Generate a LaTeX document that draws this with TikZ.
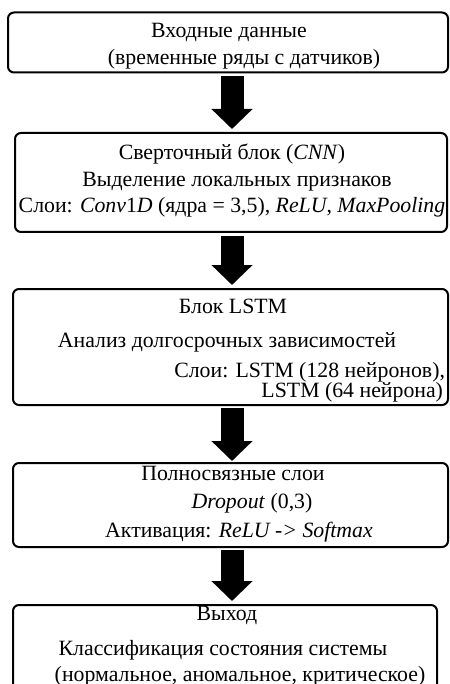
\documentclass[tikz,border=0pt]{standalone}
\usepackage{fontspec}
\setmainfont{Liberation Serif}
\usetikzlibrary{arrows.meta}
\begin{document}
\begin{tikzpicture}[x=1pt,y=-1pt,
  box/.style={draw=black, line width=2pt, rounded corners=6pt, inner sep=0pt, outer sep=0pt, fill=none},
  txt/.style={font=\fontsize{21.8}{26}\selectfont, inner sep=0pt, outer sep=0pt, anchor=base},
  rtxt/.style={txt, anchor=base east},
  blockarrow/.style={line width=23pt, black, -{Triangle[width=40pt,length=20pt]}}]
\useasboundingbox (0,0) rectangle (449,684);
\clip (0,0) rectangle (449,684);
\coordinate (ax) at (232,0);
% boxes
\node[box, minimum width=440pt, minimum height=60pt] (b1) at (228,42.5) {};
\node[box, minimum width=432pt, minimum height=99pt] (b2) at (231,182.5) {};
\node[box, minimum width=435pt, minimum height=116pt] (b3) at (230.5,347) {};
\node[box, minimum width=435pt, minimum height=84pt] (b4) at (230.5,505) {};
\node[box, minimum width=424pt, minimum height=100pt] (b5) at (225,655) {};
% texts
\node[txt] (t11) at (229,38) {Входные данные};
\node[txt] (t12) at (244,65) {(временные ряды с датчиков)};
\node[txt] (t21) at (232,160) {Сверточный блок (\textit{CNN})};
\node[txt] (t22) at (237,187) {Выделение локальных признаков};
\node[txt] (t23) at (232,213) {Слои: \textit{Conv}1\textit{D} (ядра = 3,5), \textit{ReLU}, \textit{MaxPooling}};
\node[txt] (t31) at (233,313) {Блок LSTM};
\node[txt] (t32) at (227,347) {Анализ долгосрочных зависимостей};
\node[rtxt] (t33) at (445,377) {Слои: LSTM (128 нейронов),};
\node[rtxt] (t34) at (443,397) {LSTM (64 нейрона)};
\node[txt] (t41) at (233,480) {Полносвязные слои};
\node[txt] (t42) at (252,508) {\textit{Dropout} (0,3)};
\node[txt] (t43) at (239,537) {Активация: \textit{ReLU -> Softmax}};
\node[txt] (t51) at (227,620) {Выход};
\node[txt] (t52) at (223,655) {Классификация состояния системы};
\node[txt] (t53) at (240,681) {(нормальное, аномальное, критическое)};
% arrows
\draw[blockarrow, shorten <=4pt, shorten >=4pt] (b1.south -| ax) -- (b2.north -| ax);
\draw[blockarrow, shorten <=4pt, shorten >=4pt] (b2.south -| ax) -- (b3.north -| ax);
\draw[blockarrow, shorten <=3pt, shorten >=2pt] (b3.south -| ax) -- (b4.north -| ax);
\draw[blockarrow, shorten <=3pt, shorten >=4pt] (b4.south -| ax) -- (b5.north -| ax);
\end{tikzpicture}
\end{document}
